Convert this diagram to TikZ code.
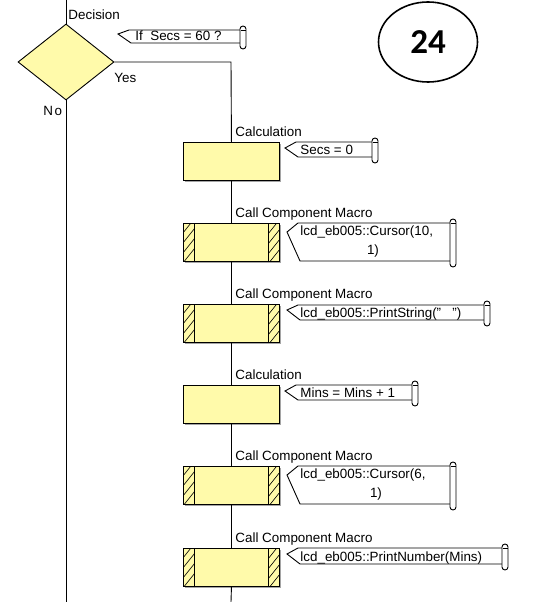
\documentclass[tikz,border=0pt]{standalone}
\usepackage{fontspec}
\setmainfont{Liberation Sans}
\newfontfamily\numfont{Carlito}
\usetikzlibrary{shapes.geometric,calc,shadows}
\definecolor{fcyellow}{RGB}{255,250,170}
\definecolor{fcshadow}{RGB}{165,165,165}
\newcommand\fcf{\fontsize{13.4}{17}\selectfont}
% comment shape: #1 pointer x, #2 top, #3 bottom, #4 right, #5 pointer y
\newcommand\cmtshape[5]{%
  \draw[cmtline] (#4,#2) -- (#1+11,#2) -- (#1,#5) -- (#1+13,#3) -- (#4,#3);
  \draw[cmtline, fill=white, rounded corners=3pt] (#4,#2-4) rectangle (#4+6,#3+6);
  \draw[line width=0.6pt] (#4+0.5,#2) -- (#4+5.5,#2);
}
\begin{document}
\begin{tikzpicture}[x=1pt,y=-1pt,line width=0.9pt,
  lbl/.style={font=\fcf, inner sep=0pt, anchor=base west},
  ctr/.style={font=\fcf, inner sep=0pt, anchor=base},
  fcbox/.style={draw, fill=fcyellow, minimum width=96pt, minimum height=38pt,
    inner sep=0pt, anchor=north west,
    drop shadow={shadow xshift=2pt, shadow yshift=-2pt, fill=fcshadow, opacity=1}},
  cmtline/.style={line width=0.9pt},
  flow/.style={line width=0.9pt}]
\useasboundingbox (0,0) rectangle (545,602);

% decision
\node[diamond, draw, fill=fcyellow, minimum width=96pt, minimum height=76pt,
  inner sep=0pt] (dec) at (66,62) {};
\node[lbl] (decl) at (68,20) {Decision};
\node[lbl] (yesl) at (114,82) {Yes};
\node[lbl] (nol) at (43,115) {N\kern1.5pt o};
\cmtshape{118}{30}{43}{240}{34}
\node[lbl] (c0) at (135,40.5) {If\ \ Secs = 60 ?};

% boxes
\node[fcbox] (calc1) at (183,142) {};
\node[fcbox] (mac1) at (183,223) {};
\node[fcbox] (mac2) at (183,304) {};
\node[fcbox] (calc2) at (183,385) {};
\node[fcbox] (mac3) at (183,466) {};
\node[fcbox] (mac4) at (183,548) {};

\node[lbl] (l1) at (235,136) {Calculation};
\node[lbl] (l2) at (235,217) {Call Component Macro};
\node[lbl] (l3) at (235,298) {Call Component Macro};
\node[lbl] (l4) at (235,379) {Calculation};
\node[lbl] (l5) at (235,460) {Call Component Macro};
\node[lbl] (l6) at (235,542) {Call Component Macro};

% hatched strips
\foreach \n in {mac1,mac2,mac3,mac4}{
  \begin{scope}
    \clip (\n.north west) rectangle ([xshift=11pt]\n.south west);
    \foreach \k in {0,...,6}
      \draw[line width=0.6pt] ($(\n.south west)+(-4,-\k*10+6)$) -- ++(16,-20);
  \end{scope}
  \begin{scope}
    \clip ([xshift=-11pt]\n.north east) rectangle (\n.south east);
    \foreach \k in {0,...,6}
      \draw[line width=0.6pt] ($(\n.south east)+(-15,-\k*10+6)$) -- ++(16,-20);
  \end{scope}
  \draw ([xshift=11pt]\n.north west) -- ([xshift=11pt]\n.south west);
  \draw ([xshift=-11pt]\n.north east) -- ([xshift=-11pt]\n.south east);
  \draw (\n.north west) rectangle (\n.south east);
}

% comments
\cmtshape{285}{142}{157}{372}{148}
\node[lbl] (c1) at (300,154) {Secs = 0};

\cmtshape{287}{223}{261}{450}{232}
\node[lbl] (c2a) at (300,235) {lcd\_eb005::Cursor(10,};
\node[ctr] (c2b) at (373,254) {1)};

\cmtshape{287}{305}{320}{484}{310}
\node[lbl] (c3) at (300,317) {lcd\_eb005::PrintString("\ \ \ ")};

\cmtshape{285}{385}{400}{412}{391}
\node[lbl] (c4) at (300,397) {Mins = Mins + 1};

\cmtshape{287}{466}{504}{450}{475}
\node[lbl] (c5a) at (300,478) {lcd\_eb005::Cursor(6,};
\node[ctr] (c5b) at (376,497) {1)};

\cmtshape{287}{548}{564}{502}{554}
\node[lbl] (c6) at (300,561) {lcd\_eb005::PrintNumber(Mins)};

% connectors
\coordinate (top) at (66,0);
\coordinate (nobot) at (66,602);
\coordinate (ycorner) at (231,62);
\coordinate (ybot) at (231,602);
\draw[flow] (top) -- (dec.north);
\draw[flow] (dec.south) -- (nobot);
\draw[flow] (dec.east) -- (ycorner) -- (calc1.north);
\draw[flow] (calc1.south) -- (mac1.north);
\draw[flow] (mac1.south) -- (mac2.north);
\draw[flow] (mac2.south) -- (calc2.north);
\draw[flow] (calc2.south) -- (mac3.north);
\draw[flow] (mac3.south) -- (mac4.north);
\draw[flow] (mac4.south) -- (ybot);

% page number
\node[draw, ellipse, line width=1.6pt, minimum width=99pt, minimum height=80pt,
  inner sep=0pt, font=\numfont\bfseries\fontsize{35}{40}\selectfont] (num) at (428,42) {24};
\end{tikzpicture}
\end{document}
